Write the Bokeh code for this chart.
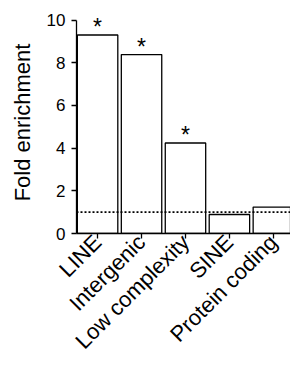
import math
from bokeh.plotting import figure
from bokeh.models import Range1d, FixedTicker, Span
from bokeh.core.properties import value
from bokeh.embed import file_html
from bokeh.resources import INLINE

categories = ["LINE", "Intergenic", "Low complexity", "SINE", "Protein coding"]
fold_enrichment = [9.3, 8.38, 4.24, 0.89, 1.24]
significant = [True, True, True, False, False]
baseline_level = 1.0
y_ticks = [0, 2, 4, 6, 8, 10]

FONT = "Liberation Sans"
x = list(range(len(categories)))

p = figure(width=290, height=365, output_backend="svg", toolbar_location=None,
           x_range=Range1d(-0.48, 4.39), y_range=Range1d(0, 10.4),
           min_border_left=76, min_border_right=0, min_border_top=11,
           min_border_bottom=129)
p.outline_line_color = None
p.grid.visible = False
p.background_fill_color = "white"
p.border_fill_color = "white"

p.vbar(x=x, top=fold_enrichment, bottom=0, width=0.92, fill_color="white",
       line_color="black", line_width=1.3)

p.add_layout(Span(location=baseline_level, dimension="width", line_color="black",
                  line_width=1.6, line_dash="2 2"))

sx = [xi for xi, s in zip(x, significant) if s]
sy = [v + 0.38 for v, s in zip(fold_enrichment, significant) if s]
p.text(x=sx, y=sy, text=["*"] * len(sx), text_align="center",
       text_baseline="alphabetic", text_font=value(FONT), text_font_size="23px",
       text_color="black")

xa = p.xaxis[0]
xa.ticker = FixedTicker(ticks=x)
xa.major_label_overrides = {i: c for i, c in zip(x, categories)}
xa.major_label_orientation = math.pi / 4
xa.major_label_text_font = FONT
xa.major_label_text_font_size = "22px"
xa.major_label_text_color = "black"
xa.major_tick_in = 0
xa.major_tick_out = 5
xa.minor_tick_out = 0
xa.minor_tick_in = 0
xa.axis_line_width = 1.3
xa.major_tick_line_width = 1.3
xa.major_label_standoff = 0

ya = p.yaxis[0]
ya.ticker = FixedTicker(ticks=y_ticks)
ya.bounds = (0, 10)
ya.axis_label = "Fold enrichment"
ya.axis_label_text_font = FONT
ya.axis_label_text_font_size = "22px"
ya.axis_label_text_font_style = "normal"
ya.axis_label_text_color = "black"
ya.axis_label_standoff = 9
ya.major_label_text_font = FONT
ya.major_label_text_font_size = "17px"
ya.major_label_text_color = "black"
ya.major_tick_in = 0
ya.major_tick_out = 5
ya.minor_tick_out = 0
ya.minor_tick_in = 0
ya.axis_line_width = 1.3
ya.major_tick_line_width = 1.3
ya.major_label_standoff = 6

open("out.html", "w").write(file_html(p, INLINE))
